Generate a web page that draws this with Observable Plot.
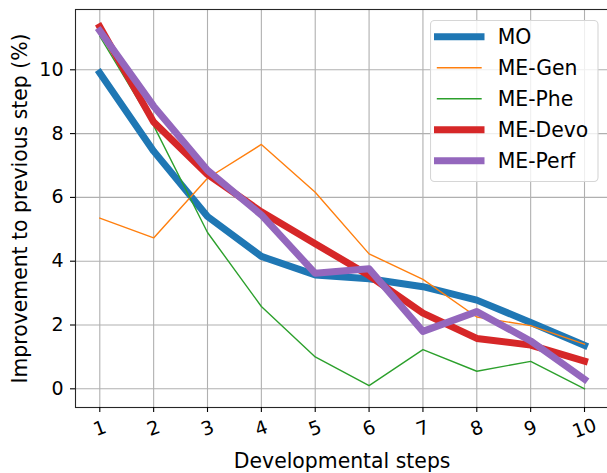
<!DOCTYPE html>
<html>
<head>
<meta charset="utf-8">
<script src="https://cdn.jsdelivr.net/npm/d3@7"></script>
<script src="https://cdn.jsdelivr.net/npm/@observablehq/plot@0.6"></script>
<style>
  html, body { margin: 0; padding: 0; background: #fff; overflow: hidden; }
  #wrap { position: relative; width: 607px; height: 473px; overflow: hidden; font-family: "DejaVu Sans", sans-serif; }
  #wrap svg.plot { overflow: hidden; }
  #legend { position: absolute; left: 430px; top: 20px; }
</style>
</head>
<body>
<div id="wrap"></div>
<script>
// ---- data ----
const steps = [1, 2, 3, 4, 5, 6, 7, 8, 9, 10];
const seriesNames = ["MO", "ME-Gen", "ME-Phe", "ME-Devo", "ME-Perf"];
const seriesColors = ["#1f77b4", "#ff7f0e", "#2ca02c", "#d62728", "#9467bd"];
const seriesWidths = [7, 1.4, 1.4, 7, 7];
const MO      = [9.9, 7.45, 5.4, 4.15, 3.57, 3.45, 3.2, 2.78, 2.08, 1.36];
const ME_Gen  = [5.35, 4.73, 6.6, 7.66, 6.16, 4.23, 3.43, 2.25, 1.98, 1.4];
const ME_Phe  = [11.05, 8.25, 4.9, 2.58, 1.0, 0.1, 1.23, 0.55, 0.86, 0.0];
const ME_Devo = [11.35, 8.36, 6.72, 5.55, 4.55, 3.55, 2.37, 1.58, 1.37, 0.87];
const ME_Perf = [11.22, 8.86, 6.85, 5.45, 3.62, 3.76, 1.8, 2.42, 1.5, 0.3];
const xTicks = [1, 2, 3, 4, 5, 6, 7, 8, 9, 10];
const yTicks = [0, 2, 4, 6, 8, 10];
const xLabel = "Developmental steps";
const yLabel = "Improvement to previous step (%)";

const valuesList = [MO, ME_Gen, ME_Phe, ME_Devo, ME_Perf];
const table = [];
seriesNames.forEach((s, i) => steps.forEach((x, j) => table.push({series: s, step: x, value: valuesList[i][j]})));

const gridStyle = {stroke: "#b0b0b0", strokeOpacity: 1, strokeWidth: 1.1};

const lineMarks = seriesNames.map((s, i) =>
  Plot.line(table.filter(d => d.series === s), {
    x: "step", y: "value", stroke: "series",
    strokeWidth: seriesWidths[i], strokeLinejoin: "round", strokeLinecap: "square"
  })
);

const chart = Plot.plot({
  width: 607,
  height: 473,
  marginLeft: 75,
  marginRight: -1.3,
  marginTop: 9,
  marginBottom: 66,
  style: {fontFamily: "DejaVu Sans, sans-serif", fontSize: "19px", color: "#000", background: "#fff"},
  x: {domain: [0.549, 10.451], ticks: xTicks, label: null},
  y: {domain: [-0.586, 11.89], ticks: yTicks, label: null},
  color: {domain: seriesNames, range: seriesColors},
  marks: [
    Plot.gridX(xTicks, gridStyle),
    Plot.gridY(yTicks, gridStyle),
    ...lineMarks,
    Plot.frame({stroke: "#262626", strokeWidth: 1.1}),
    Plot.axisX(xTicks, {tickSize: 5, tickPadding: 16, tickRotate: -20, textAnchor: "middle", lineAnchor: "middle", strokeWidth: 1.1, label: null}),
    Plot.axisY(yTicks, {tickSize: 5, tickPadding: 7, strokeWidth: 1.1, label: null}),
    Plot.text([xLabel], {frameAnchor: "bottom", dy: 60.3, lineAnchor: "bottom", textAnchor: "middle", fontSize: 20.4, fill: "#000"}),
    Plot.text([yLabel], {frameAnchor: "left", dx: -49, rotate: -90, lineAnchor: "bottom", textAnchor: "middle", fontSize: 20.4, fill: "#000"})
  ]
});
const wrap = document.getElementById("wrap");
wrap.appendChild(chart);

// ---- legend (overlay) ----
const ns = "http://www.w3.org/2000/svg";
const lg = document.createElementNS(ns, "svg");
lg.setAttribute("id", "legend");
lg.setAttribute("width", 170);
lg.setAttribute("height", 163);
const box = document.createElementNS(ns, "rect");
box.setAttribute("x", 0.5); box.setAttribute("y", 0.5);
box.setAttribute("width", 167.5); box.setAttribute("height", 161);
box.setAttribute("rx", 4); box.setAttribute("ry", 4);
box.setAttribute("fill", "rgba(255,255,255,0.8)");
box.setAttribute("stroke", "#d6d6d6"); box.setAttribute("stroke-width", 1.1);
lg.appendChild(box);
seriesNames.forEach((s, i) => {
  const cy = 16.7 + i * 31;
  const ln = document.createElementNS(ns, "line");
  ln.setAttribute("x1", 7.5); ln.setAttribute("x2", 51);
  ln.setAttribute("y1", cy); ln.setAttribute("y2", cy);
  ln.setAttribute("stroke", seriesColors[i]);
  ln.setAttribute("stroke-width", seriesWidths[i]);
  ln.setAttribute("stroke-linecap", "square");
  lg.appendChild(ln);
  const t = document.createElementNS(ns, "text");
  t.setAttribute("x", 67.7); t.setAttribute("y", cy);
  t.setAttribute("dy", "0.36em");
  t.setAttribute("font-family", "DejaVu Sans, sans-serif");
  t.setAttribute("font-size", "20.4px");
  t.setAttribute("fill", "#000");
  t.textContent = s;
  lg.appendChild(t);
});
wrap.appendChild(lg);
</script>
</body>
</html>
